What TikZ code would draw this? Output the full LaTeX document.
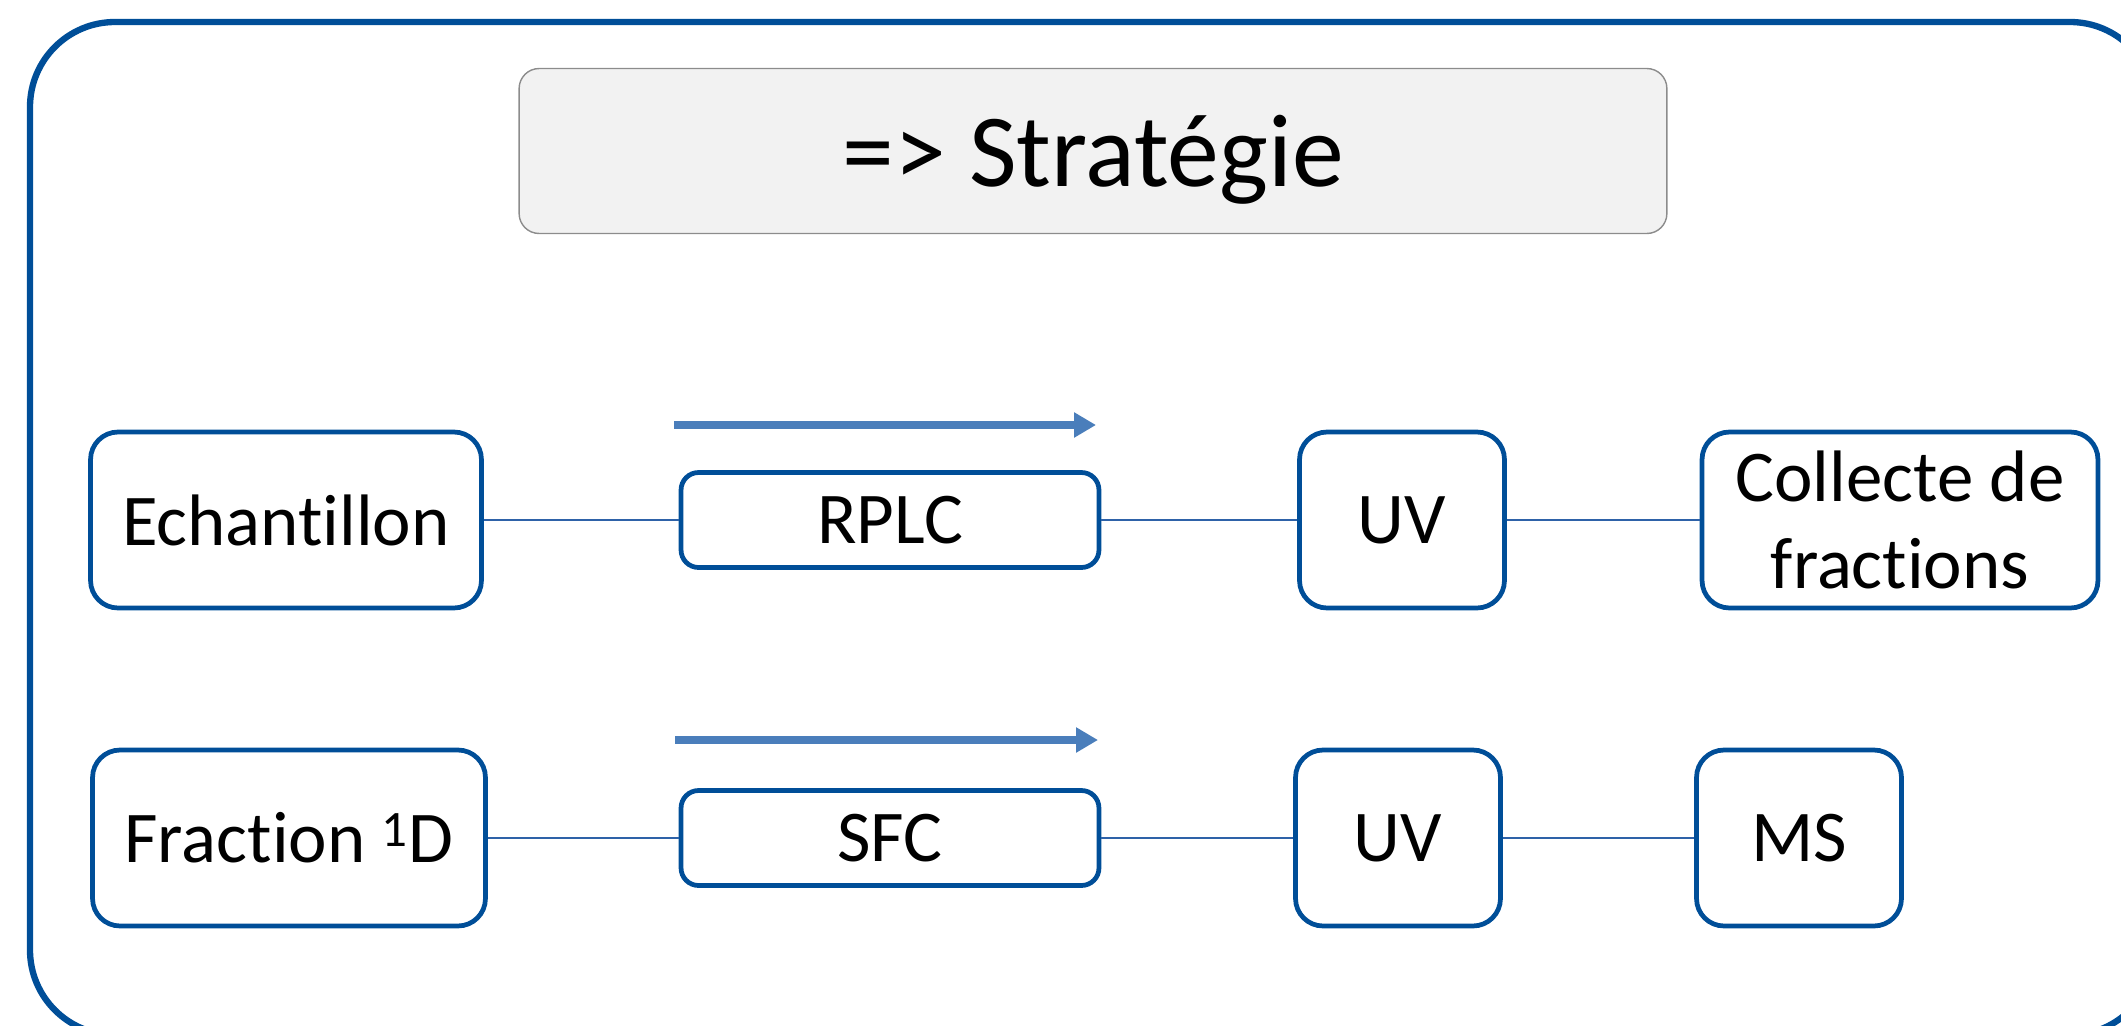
\documentclass[tikz,border=0pt]{standalone}
\usepackage{fontspec}
\setmainfont[Ligatures={NoCommon}]{Carlito}
\usetikzlibrary{arrows.meta}

\definecolor{frameblue}{RGB}{0,78,152}
\definecolor{lineblue}{RGB}{46,98,168}
\definecolor{arrowblue}{RGB}{74,126,187}
\definecolor{titlegray}{RGB}{242,242,242}

\tikzset{
  module/.style={draw=frameblue,line width=2.7pt,rounded corners=0.55cm,fill=white,
    align=center,inner sep=0pt,minimum height=3.52cm,
    font=\fontsize{41.5pt}{50pt}\selectfont},
  flat/.style={module,rounded corners=0.35cm,minimum height=1.9cm,minimum width=8.36cm},
  link/.style={draw=lineblue,line width=1pt},
  flow/.style={draw=arrowblue,line width=4.5pt,-{Triangle[length=0.44cm,width=0.48cm]}}
}

\begin{document}
\begin{tikzpicture}[x=0.02cm,y=-0.02cm]
      \pgfmathsetmacro{\ya}{520}
      \pgfmathsetmacro{\yb}{838}

      \useasboundingbox (0,0) rectangle (2121,1025);
      \draw[frameblue,line width=3.6pt,rounded corners=1.7cm] (30,22) rectangle (2155,1035);

      \node[draw=gray!90,fill=titlegray,line width=0.8pt,rounded corners=0.4cm,
        minimum width=22.96cm,minimum height=3.3cm,text height=1.6cm,text depth=0.16cm,
        font=\fontsize{59pt}{70pt}\selectfont] (T) at (1093,151) {=> Stratégie};

      \node[module,minimum width=7.82cm] (A0) at (286,\ya) {Echantillon};
      \node[flat] (A1) at (890,\ya) {RPLC};
      \node[module,minimum width=4.1cm] (A2) at (1402,\ya) {UV};
      \node[module,minimum width=7.92cm] (A3) at (1900,\ya) {Collecte de\\fractions};

      \node[module,minimum width=7.86cm] (B0) at (289,\yb) {Fraction \textsuperscript{1}D};
      \node[flat] (B1) at (890,\yb) {SFC};
      \node[module,minimum width=4.1cm] (B2) at (1398,\yb) {UV};
      \node[module,minimum width=4.1cm] (B3) at (1799,\yb) {MS};

      \coordinate (P0) at (674,425);
      \coordinate (P1) at (1096,425);
      \coordinate (Q0) at (675,740);
      \coordinate (Q1) at (1098,740);

      \draw[flow] (P0) -- (P1);
      \draw[flow] (Q0) -- (Q1);

      \draw[link] (A0) -- (A1);
      \draw[link] (A1) -- (A2);
      \draw[link] (A2) -- (A3);
      \draw[link] (B0) -- (B1);
      \draw[link] (B1) -- (B2);
      \draw[link] (B2) -- (B3);
    \end{tikzpicture}
\end{document}
